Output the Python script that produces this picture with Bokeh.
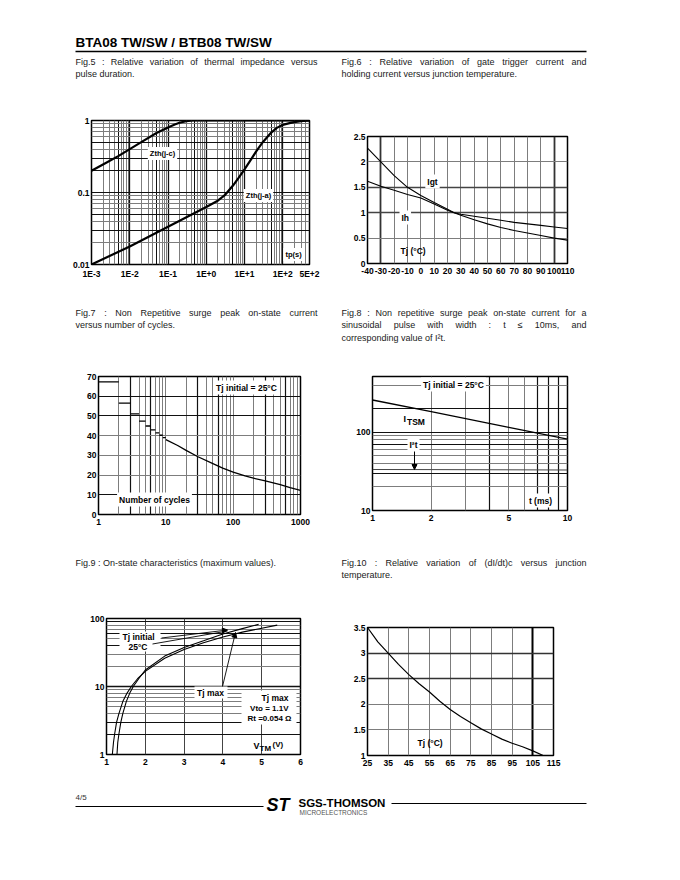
import math
from bokeh.plotting import figure
from bokeh.layouts import column, row
from bokeh.models import (Range1d, FixedTicker, Grid, Label, Arrow, NormalHead,
                          CustomJSTickFormatter, BoxAnnotation)
from bokeh.core.properties import value
from bokeh.embed import file_html
from bokeh.resources import INLINE

FONT = "Liberation Sans"

# ---------------- data ----------------
# Fig.5 thermal impedance
fig5_t_jc = [1e-3, 2e-3, 5e-3, 1e-2, 2e-2, 5e-2, 0.1, 0.15, 0.2, 0.3, 0.45, 1, 10, 100, 500]
fig5_z_jc = [0.20, 0.245, 0.32, 0.40, 0.50, 0.67, 0.80, 0.88, 0.93, 0.98, 1.0, 1.0, 1.0, 1.0, 1.0]
fig5_t_ja = [1e-3, 1e-2, 0.1, 1, 2, 3, 5, 7, 10, 15, 20, 30, 50, 70, 100, 150, 200, 300, 500]
fig5_z_ja = [0.0100, 0.0178, 0.0335, 0.063, 0.077, 0.091, 0.125, 0.16, 0.21, 0.29, 0.37,
             0.50, 0.68, 0.79, 0.87, 0.92, 0.95, 0.98, 1.0]
fig5_xticks = [1e-3, 1e-2, 1e-1, 1.0, 10.0, 100.0, 500.0]
fig5_yticks = [0.01, 0.1, 1.0]

# Fig.6 Igt / Ih vs Tj
fig6_tj = [-40, -30, -20, -10, 0, 10, 20, 25, 30, 40, 50, 60, 70, 80, 90, 100, 110]
fig6_igt = [2.27, 2.0, 1.73, 1.50, 1.34, 1.20, 1.07, 1.0, 0.95, 0.86, 0.78, 0.71, 0.65,
            0.60, 0.55, 0.50, 0.46]
fig6_ih = [1.62, 1.52, 1.44, 1.36, 1.29, 1.17, 1.05, 1.0, 0.97, 0.93, 0.89, 0.85, 0.81,
           0.78, 0.75, 0.72, 0.69]
fig6_xticks = [-40, -30, -20, -10, 0, 10, 20, 30, 40, 50, 60, 70, 80, 90, 100, 110]
fig6_yticks = [0, 0.5, 1, 1.5, 2, 2.5]

# Fig.7 ITSM vs number of cycles
fig7_step_from = [1, 2, 3, 4, 5, 6, 7, 8, 9]
fig7_step_to = [2, 3, 4, 5, 6, 7, 8, 9, 10]
fig7_step_itsm = [67.3, 56.5, 51.0, 47.4, 44.9, 42.9, 41.4, 40.2, 39.0]
fig7_cycles = [10, 15, 20, 30, 50, 70, 100, 150, 200, 300, 500, 700, 1000]
fig7_itsm = [38.0, 35.0, 32.5, 29.3, 25.8, 23.5, 21.5, 19.6, 18.4, 17.1, 15.1, 13.6, 12.2]
fig7_xticks = [1, 10, 100, 1000]
fig7_yticks = [0, 10, 20, 30, 40, 50, 60, 70]

# Fig.8 ITSM and I2t vs pulse width
fig8_t = [1, 2, 5, 10]
fig8_itsm = [260, 185, 116, 82]
fig8_i2t = [33.5, 33.4, 33.2, 33.0]
fig8_xticks = [1, 2, 5, 10]
fig8_yticks = [10, 100]

# Fig.9 on-state characteristics
fig9_v_max = [1.15, 1.18, 1.21, 1.26, 1.32, 1.42, 1.53, 1.64, 1.80, 2.0, 2.5, 3.0, 3.5,
              4.0, 4.5, 5.0, 5.4]
fig9_i_max = [1.0, 1.5, 2.0, 3.0, 4.0, 6.0, 8.0, 10, 13, 16.7, 26, 35, 44, 53.5, 63, 72, 80]
fig9_v_25 = [1.27, 1.29, 1.32, 1.37, 1.42, 1.51, 1.60, 1.69, 1.83, 2.0, 2.5, 3.0, 3.5,
             4.0, 4.5, 4.92]
fig9_i_25 = [1.0, 1.5, 2.0, 3.0, 4.0, 6.0, 8.0, 10, 13, 17.5, 28, 37.5, 47, 59, 71, 82]
fig9_xticks = [1, 2, 3, 4, 5, 6]
fig9_yticks = [1, 10, 100]

# Fig.10 (dI/dt)c vs Tj
fig10_tj = [25, 30, 35, 40, 45, 50, 55, 60, 65, 70, 75, 80, 85, 90, 95, 100, 105, 110]
fig10_ratio = [3.5, 3.22, 3.0, 2.78, 2.58, 2.40, 2.24, 2.06, 1.90, 1.76, 1.64, 1.52,
               1.42, 1.32, 1.24, 1.17, 1.09, 1.0]
fig10_xticks = [25, 35, 45, 55, 65, 75, 85, 95, 105, 115]
fig10_yticks = [1, 1.5, 2, 2.5, 3, 3.5]

# ---------------- text helpers ----------------
_AW = {" ": 278, "!": 278, "(": 333, ")": 333, ",": 278, "-": 333, ".": 278, "/": 278,
       ":": 278, "\u2264": 549, "\u00b2": 333}
for _c in "0123456789":
    _AW[_c] = 556
_AW.update(dict(zip("ABCDEFGHIJKLMNOPQRSTUVWXYZ",
                    [667, 667, 722, 722, 667, 611, 778, 722, 278, 500, 667, 556, 833, 722,
                     778, 667, 778, 722, 667, 611, 722, 667, 944, 667, 667, 611])))
_AW.update(dict(zip("abcdefghijklmnopqrstuvwxyz",
                    [556, 556, 500, 556, 556, 278, 556, 556, 222, 222, 500, 222, 833, 556,
                     556, 556, 556, 333, 500, 278, 556, 500, 722, 500, 500, 500])))


def text_width(s, size):
    return sum(_AW.get(c, 556) for c in s) * size / 1000.0


PAGE_W = 680


def band(y0, h):
    p = figure(width=PAGE_W, height=h, x_range=Range1d(0, PAGE_W), y_range=Range1d(y0 + h, y0),
               x_axis_type=None, y_axis_type=None, toolbar_location=None, title=None,
               output_backend="svg", min_border=0, outline_line_color=None)
    return p


def btext(p, xs, ys, texts, size=9, bold=False, color="#1a1a1a", align="left", italic=False):
    style = "normal"
    if bold and italic:
        style = "bold italic"
    elif bold:
        style = "bold"
    elif italic:
        style = "italic"
    p.text(x=xs, y=ys, text=texts, text_font=value(FONT),
           text_font_size=value(f"{size}px"), text_font_style=style,
           text_align=align, text_baseline="middle", text_color=color)


def caption(p, lines, x0, x1, y0, dy=12.5, size=9):
    xs, ys, ts = [], [], []
    for i, line in enumerate(lines):
        y = y0 + i * dy
        words = line.split(" ")
        if i == len(lines) - 1 or len(words) == 1:
            xs.append(x0); ys.append(y); ts.append(line)
            continue
        ws = [text_width(w, size) for w in words]
        gap = (x1 - x0 - sum(ws)) / (len(words) - 1)
        x = x0
        for w, wd in zip(words, ws):
            xs.append(x); ys.append(y); ts.append(w)
            x += wd + gap
    btext(p, xs, ys, ts, size)


class Chart:
    def __init__(self, ox, oy, w, h, frame, xr, yr, xlog=False, ylog=False):
        self.fx0, self.fx1, self.fy0, self.fy1 = frame
        self.xr, self.yr, self.xlog, self.ylog = xr, yr, xlog, ylog
        p = figure(width=w, height=h, x_range=Range1d(*xr), y_range=Range1d(*yr),
                   x_axis_type="log" if xlog else "linear",
                   y_axis_type="log" if ylog else "linear",
                   toolbar_location=None, output_backend="svg", title=None,
                   min_border_left=self.fx0 - ox, min_border_right=ox + w - self.fx1,
                   min_border_top=self.fy0 - oy, min_border_bottom=oy + h - self.fy1,
                   outline_line_color="black", outline_line_width=1.5)
        p.frame_align = False
        p.xgrid.visible = False
        p.ygrid.visible = False
        for ax in (p.xaxis[0], p.yaxis[0]):
            ax.axis_line_color = None
            ax.major_tick_line_color = None
            ax.minor_tick_line_color = None
            ax.major_tick_out = 0
            ax.major_tick_in = 0
            ax.major_label_text_font = FONT
            ax.major_label_text_font_size = "8.5px"
            ax.major_label_text_font_style = "bold"
            ax.major_label_text_color = "black"
        p.yaxis.major_label_standoff = 2
        p.xaxis.major_label_standoff = 4
        self.p = p

    def _map(self, f, r, log):
        if log:
            a, b = math.log10(r[0]), math.log10(r[1])
            return 10 ** (a + f * (b - a))
        return r[0] + f * (r[1] - r[0])

    def dx(self, px):
        return self._map((px - self.fx0) / (self.fx1 - self.fx0), self.xr, self.xlog)

    def dy(self, py):
        return self._map((self.fy1 - py) / (self.fy1 - self.fy0), self.yr, self.ylog)

    def ticks(self, xt, yt, xcode="return String(tick)", ycode="return String(tick)"):
        self.p.xaxis.ticker = FixedTicker(ticks=xt)
        self.p.yaxis.ticker = FixedTicker(ticks=yt)
        self.p.xaxis.formatter = CustomJSTickFormatter(code=xcode)
        self.p.yaxis.formatter = CustomJSTickFormatter(code=ycode)

    def grid(self, dim, ticks, color, width=1.0):
        self.p.add_layout(Grid(dimension=dim, ticker=FixedTicker(ticks=ticks),
                               grid_line_color=color, grid_line_width=width))

    def box(self, px0, py0, px1, py1):
        self.p.add_layout(BoxAnnotation(left=self.dx(px0), right=self.dx(px1),
                                        top=self.dy(py0), bottom=self.dy(py1),
                                        fill_color="white", fill_alpha=1.0,
                                        line_color=None))

    def label(self, px, py, s, size=8, bold=True, align="left", bg=False, pad=2):
        lab = Label(x=self.dx(px), y=self.dy(py), text=s, text_font=FONT,
                    text_font_size=f"{size}px",
                    text_font_style="bold" if bold else "normal",
                    text_align=align, text_baseline="middle", text_color="black")
        if bg:
            lab.background_fill_color = "white"
            lab.padding = pad
        self.p.add_layout(lab)

    def seg(self, px0, py0, px1, py1, width=1.0, head=False):
        end = NormalHead(size=5, fill_color="black", line_color="black", line_width=1) if head else None
        self.p.add_layout(Arrow(x_start=self.dx(px0), y_start=self.dy(py0),
                                x_end=self.dx(px1), y_end=self.dy(py1),
                                line_width=width, line_color="black", end=end))


GRAY = "#7d7d7d"
DARK = "#111111"

# ---------------- top band: header + captions 5/6 ----------------
bandA = band(0, 100)
btext(bandA, [75], [42], ["BTA08 TW/SW / BTB08 TW/SW"], size=13.5, bold=True, color="black")
bandA.line(x=[75, 586], y=[51, 51], line_color="black", line_width=1.3)
caption(bandA, ["Fig.5 : Relative variation of thermal impedance versus", "pulse duration."],
        75, 317, 61)
caption(bandA, ["Fig.6 : Relative variation of gate trigger current and",
                "holding current versus junction temperature."], 341, 586, 61)

# ---------------- Fig.5 ----------------
f5 = Chart(0, 100, 336, 182, (91, 309, 120, 264), (1e-3, 500), (0.01, 1), xlog=True, ylog=True)
f5.ticks(fig5_xticks, fig5_yticks,
         xcode="return tick.toExponential(0).toUpperCase()")
minor_x5 = [m * 10.0 ** k for k in range(-3, 3) for m in range(2, 10) if m * 10.0 ** k <= 500]
f5.grid(0, [v for i, v in enumerate(minor_x5) if (i % 8) != 3], GRAY, 1)
f5.grid(0, [5e-3, 5e-2, 0.5, 5.0, 50.0], DARK, 1)
f5.grid(0, [1e-2, 1e-1, 1.0, 10.0, 100.0], DARK, 1.3)
f5.grid(1, [0.02, 0.04, 0.06, 0.07, 0.08, 0.09, 0.4, 0.6, 0.7, 0.8, 0.9], GRAY, 1)
f5.grid(1, [0.03, 0.05, 0.2, 0.3, 0.5, 0.1], DARK, 1.2)
f5.p.line(fig5_t_jc, fig5_z_jc, line_color="black", line_width=2.2)
f5.p.line(fig5_t_ja, fig5_z_ja, line_color="black", line_width=2.2)
f5.label(92, 111, "Zth/Rth", size=7.5)
f5.label(162, 153, "Zth(j-c)", size=7.5, align="center", bg=True)
f5.label(258, 195, "Zth(j-a)", size=7.5, align="center", bg=True)
f5.label(293, 254, "tp(s)", size=7.5, align="center", bg=True)

# ---------------- Fig.6 ----------------
f6 = Chart(336, 100, 344, 182, (367, 567, 136, 263), (-40, 110), (0, 2.5))
f6.ticks(fig6_xticks, fig6_yticks)
f6.grid(0, [-20, -10, 0, 10, 20, 30, 40, 50, 60, 70, 80, 90], GRAY, 1)
f6.grid(0, [-30, 100], "#333333", 1.8)
f6.grid(1, [0.5, 2.0], GRAY, 1)
f6.grid(1, [1.0, 1.5], "#444444", 1.3)
f6.p.line(fig6_tj, fig6_igt, line_color="black", line_width=1.1)
f6.p.line(fig6_tj, fig6_ih, line_color="black", line_width=1.1)
f6.label(368, 106, "Igt[Tj]", size=8)
f6.seg(367, 110.5, 416, 110.5, width=1)
f6.label(368, 115, "Igt[Tj=25\u00b0C]", size=8)
f6.label(426, 106, ".", size=8)
f6.label(433, 106, "Ih[Tj]", size=8)
f6.label(472, 106, ".", size=8)
f6.seg(425, 110.5, 476, 110.5, width=1)
f6.label(432, 115, "Ih[Tj=25\u00b0C]", size=8)
f6.label(432, 181, "Igt", size=8.5, align="center", bg=True)
f6.label(399, 217, "Ih", size=8.5, bg=True)
f6.label(400, 250, "Tj (\u00b0C)", size=8.5)

# ---------------- band B: captions 7/8 ----------------
bandB = band(282, 70)
caption(bandB, ["Fig.7 : Non Repetitive surge peak on-state current",
                "versus number of cycles."], 75, 317, 312)
caption(bandB, ["Fig.8 : Non repetitive surge peak on-state current for a",
                "sinusoidal pulse with width : t \u2264 10ms, and",
                "corresponding value of I\u00b2t."], 341, 586, 312)

# ---------------- Fig.7 ----------------
f7 = Chart(0, 352, 336, 180, (98, 300, 376, 514), (1, 1000), (0, 70), xlog=True)
f7.ticks(fig7_xticks, fig7_yticks)
f7.grid(0, [2, 4, 5, 7, 8, 9, 10, 20, 40, 50, 70, 80, 90, 100, 200, 400, 500, 700, 800, 900],
        GRAY, 1)
f7.grid(0, [3, 6, 30, 60, 300, 600], DARK, 1.2)
f7.grid(1, [20, 30, 40], GRAY, 1)
f7.grid(1, [10, 50, 60], DARK, 1.2)
f7.p.segment(x0=fig7_step_from, y0=fig7_step_itsm, x1=fig7_step_to, y1=fig7_step_itsm,
             line_color="black", line_width=1.3)
f7.p.line(fig7_cycles, fig7_itsm, line_color="black", line_width=1.3)
f7.label(98, 361, "I", size=9)
f7.label(101.5, 366, "TSM", size=7)
f7.label(117, 360, "(A)", size=7.5)
f7.label(246, 387, "Tj initial = 25\u00b0C", size=8.5, align="center", bg=True)
f7.label(154, 499, "Number of cycles", size=8.5, align="center", bg=True)

# ---------------- Fig.8 ----------------
f8 = Chart(336, 352, 344, 180, (372, 567, 376, 510), (1, 10), (10, 520), xlog=True, ylog=True)
f8.ticks(fig8_xticks, fig8_yticks)
f8.grid(0, [2, 3, 5, 6], GRAY, 1)
f8.grid(0, [4, 7, 8, 9], DARK, 1.2)
f8.grid(1, [20, 40, 50, 60, 80, 90, 400], GRAY, 1)
f8.grid(1, [30, 70, 100, 200], DARK, 1.2)
f8.p.line(fig8_t, fig8_itsm, line_color="black", line_width=1.3)
f8.p.line(fig8_t, fig8_i2t, line_color="#444444", line_width=1)
f8.label(373, 362, "I", size=8)
f8.label(376, 365, "TSM", size=7)
f8.label(391, 361, "(A). I\u00b2t (A\u00b2s)", size=7.5)
f8.label(453, 384, "Tj initial = 25\u00b0C", size=8.5, align="center", bg=True)
f8.label(403, 418, "I", size=9)
f8.label(406.5, 421, "TSM", size=8.5)
f8.label(413, 444, "I\u00b2t", size=8.5, align="center", bg=True)
f8.seg(414, 451, 414, 469, width=1, head=True)
f8.label(540, 500, "t (ms)", size=8.5, align="center", bg=True)

# ---------------- band C: captions 9/10 ----------------
bandC = band(532, 56)
caption(bandC, ["Fig.9 : On-state characteristics (maximum values)."], 75, 317, 562)
caption(bandC, ["Fig.10 : Relative variation of (dI/dt)c versus junction", "temperature."],
        341, 586, 562)

# ---------------- Fig.9 ----------------
f9 = Chart(0, 588, 336, 184, (106, 300, 618, 754), (1, 6), (1, 100), ylog=True)
f9.ticks(fig9_xticks, fig9_yticks)
f9.grid(0, [2, 3, 4, 5], "#444444", 1)
f9.grid(1, [4, 5, 6, 7, 8, 9, 20, 30, 50, 70, 80], GRAY, 1)
f9.grid(1, [2, 3, 40, 60, 90], DARK, 1.1)
f9.grid(1, [10], DARK, 1.4)
f9.p.line(fig9_v_max, fig9_i_max, line_color="black", line_width=1.1)
f9.p.line(fig9_v_25, fig9_i_25, line_color="black", line_width=1.1)
f9.label(101, 603, "I", size=9)
f9.label(106, 607, "TM", size=8)
f9.label(126, 601, "(A)", size=7)
f9.box(119, 631, 160, 651)
f9.label(122, 636.5, "Tj initial", size=8.5)
f9.label(128, 646, "25\u00b0C", size=8.5)
f9.seg(161, 637.5, 227, 629.5, width=0.9, head=True)
f9.seg(152, 643.5, 227, 630.5, width=0.9)
f9.box(194, 686, 227, 698)
f9.label(210, 692, "Tj max", size=8.5, align="center")
f9.seg(222, 686, 235, 632, width=0.9, head=True)
f9.box(241, 690, 296, 724)
f9.label(288, 697, "Tj max", size=8.5, align="right")
f9.label(288, 707.5, "Vto = 1.1V", size=8, align="right")
f9.label(291, 718, "Rt =0.054 \u03a9", size=8, align="right")
f9.label(253, 745, "V", size=9)
f9.label(259, 748, "TM", size=8)
f9.label(272, 744, "(V)", size=8)

# ---------------- Fig.10 ----------------
f10 = Chart(336, 588, 344, 184, (367, 553, 627, 755), (25, 115), (1, 3.5))
f10.ticks(fig10_xticks, fig10_yticks)
f10.grid(0, [35, 45, 55, 65, 75, 85, 95], GRAY, 1)
f10.grid(0, [105], "black", 2)
f10.grid(1, [1.5, 2.0], GRAY, 1)
f10.grid(1, [2.5, 3.0], "#333333", 1.3)
f10.p.line(fig10_tj, fig10_ratio, line_color="black", line_width=1.2)
f10.label(368, 602, "(dI/dt)c (Tj)", size=8)
f10.seg(367, 606.5, 448, 606.5, width=1)
f10.label(368, 611, "(dI/dt)c (Tj = 110\u00b0C)", size=8)
f10.label(417, 742, "Tj (\u00b0C)", size=8.5)

# ---------------- footer ----------------
bandD = band(772, 100)
btext(bandD, [75], [797], ["4/5"], size=8, color="#333333")
bandD.line(x=[75, 263], y=[806, 806], line_color="black", line_width=1)
btext(bandD, [266], [804], ["ST"], size=18, bold=True, italic=True, color="black")
btext(bandD, [298], [802], ["SGS-THOMSON"], size=11.5, bold=True, color="black")
btext(bandD, [299], [812], ["MICROELECTRONICS"], size=6.5, color="#555555")
bandD.line(x=[391, 586], y=[803, 803], line_color="black", line_width=1)

layout = column(bandA, row(f5.p, f6.p), bandB, row(f7.p, f8.p), bandC,
                row(f9.p, f10.p), bandD)
open("out.html", "w").write(file_html(layout, INLINE, title="BTA08 TW/SW / BTB08 TW/SW"))
